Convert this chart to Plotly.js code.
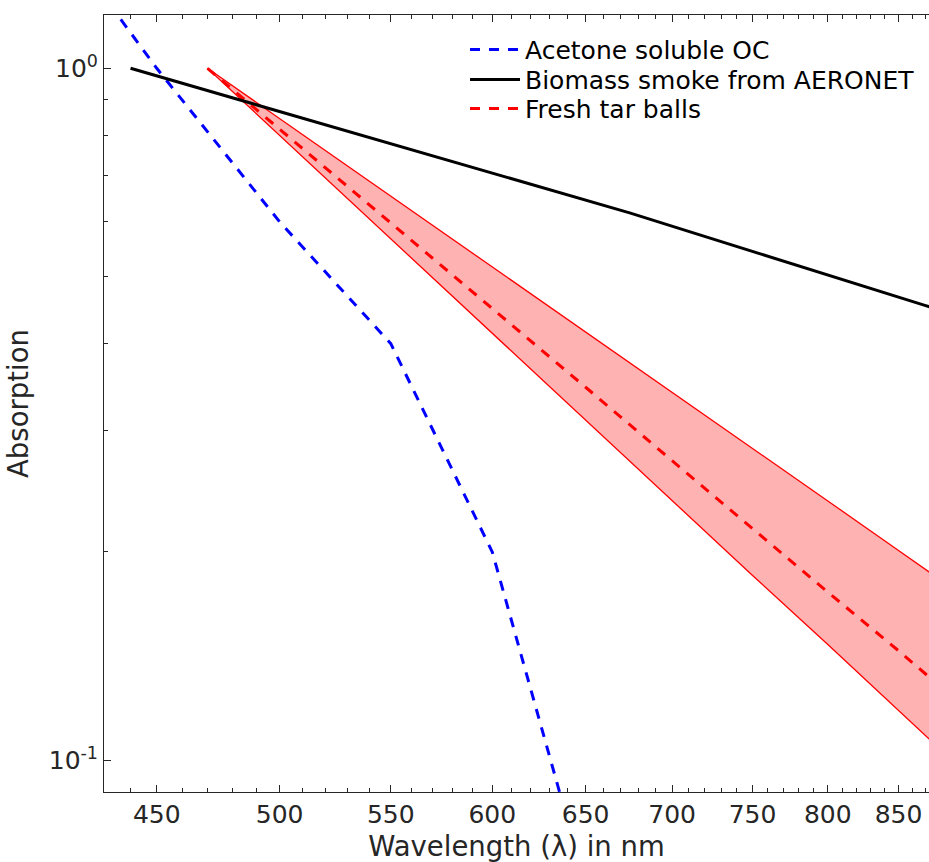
<!DOCTYPE html>
<html>
<head>
<meta charset="utf-8">
<script src="https://cdn.plot.ly/plotly-3.0.1.min.js"></script>
<style>html,body{margin:0;padding:0;background:#fff;}#chart{width:929px;height:862px;}</style>
</head>
<body>
<div id="chart"></div>
<script>
// Acetone soluble OC
const wavelengthBlue = [400, 450, 500, 550, 600, 650];
const absBlue = [1.86, 1.0, 0.60, 0.40, 0.20, 0.066];
// Biomass smoke from AERONET
const wavelengthBlack = [440, 675, 870, 1020];
const absBlack = [1.0, 0.618, 0.454, 0.375];
// Fresh tar balls (mean and range)
const wavelengthRed = [470, 500, 550, 600, 650, 700, 750, 800, 850, 900];
const absRedMid = [1.0, 0.817, 0.598, 0.449, 0.346, 0.271, 0.216, 0.175, 0.144, 0.119];
const absRedUpper = [1.0, 0.846, 0.653, 0.516, 0.416, 0.340, 0.282, 0.237, 0.201, 0.172];
const absRedLower = [1.0, 0.800, 0.567, 0.414, 0.310, 0.237, 0.185, 0.147, 0.118, 0.096];

const xTickVals = [450, 500, 550, 600, 650, 700, 750, 800, 850];
const xTickText = ['450', '500', '550', '600', '650', '700', '750', '800', '850'];
const xMinorVals = [440, 460, 470, 480, 490, 510, 520, 530, 540, 560, 570, 580, 590, 610, 620, 630, 640, 660, 670, 680, 690, 710, 720, 730, 740, 760, 770, 780, 790, 810, 820, 830, 840, 860, 870];
const yTickVals = [0.1, 1];
const yTickText = ['10<sup>-1</sup>', '10<sup>0</sup>'];
const yMinorVals = [0.09, 0.2, 0.3, 0.4, 0.5, 0.6, 0.7, 0.8, 0.9];

const axisColor = '#262626';
const font = 'DejaVu Sans, Liberation Sans, sans-serif';

const traces = [
  {x: wavelengthRed, y: absRedUpper, mode: 'lines', line: {color: 'rgb(255,0,0)', width: 1.3}, showlegend: false, hoverinfo: 'skip'},
  {x: wavelengthRed, y: absRedLower, mode: 'lines', line: {color: 'rgb(255,0,0)', width: 1.3}, fill: 'tonexty', fillcolor: 'rgba(255,0,0,0.3)', showlegend: false, hoverinfo: 'skip'},
  {x: wavelengthRed, y: absRedMid, mode: 'lines', name: 'Fresh tar balls', legend: 'legend3', line: {color: 'rgb(255,0,0)', width: 3, dash: '10px,9px'}},
  {x: wavelengthBlue, y: absBlue, mode: 'lines', name: 'Acetone soluble OC', legend: 'legend', line: {color: 'rgb(0,0,255)', width: 3, dash: '10px,9px'}},
  {x: wavelengthBlack, y: absBlack, mode: 'lines', name: 'Biomass smoke from AERONET', legend: 'legend2', line: {color: 'rgb(0,0,0)', width: 3}}
];

function legendAt(yTop) {
  return {x: 0.4376, y: yTop, xanchor: 'left', yanchor: 'top', bgcolor: 'rgba(0,0,0,0)', borderwidth: 0,
          font: {size: 25, color: '#000'}, itemwidth: 50, traceorder: 'normal'};
}

const layout = {
  width: 929, height: 862,
  margin: {l: 104, r: 0, t: 15, b: 70},
  paper_bgcolor: '#fff', plot_bgcolor: '#fff',
  font: {family: font, color: axisColor, size: 25},
  showlegend: true,
  legend: legendAt(0.985),
  legend2: legendAt(0.9464),
  legend3: legendAt(0.909),
  xaxis: {
    type: 'log', range: [Math.log10(430.1), Math.log10(872.5)],
    tickmode: 'array', tickvals: xTickVals, ticktext: xTickText,
    ticks: 'inside', ticklen: 7, tickwidth: 1, tickcolor: axisColor,
    minor: {tickmode: 'array', tickvals: xMinorVals, ticks: 'inside', ticklen: 4, tickwidth: 1, tickcolor: axisColor, showgrid: false},
    showline: true, linecolor: axisColor, linewidth: 1, mirror: 'allticks',
    showgrid: false, zeroline: false,
    tickfont: {size: 25, color: axisColor},
    title: {text: 'Wavelength (λ) in nm', font: {size: 27.5, color: axisColor}, standoff: 8}
  },
  yaxis: {
    type: 'log', range: [-1.0458, 0.0770],
    tickmode: 'array', tickvals: yTickVals, ticktext: yTickText,
    ticks: 'inside', ticklen: 7, tickwidth: 1, tickcolor: axisColor,
    minor: {tickmode: 'array', tickvals: yMinorVals, ticks: 'inside', ticklen: 4, tickwidth: 1, tickcolor: axisColor, showgrid: false},
    showline: true, linecolor: axisColor, linewidth: 1, mirror: false,
    showgrid: false, zeroline: false,
    tickfont: {size: 25, color: axisColor},
    title: {text: 'Absorption', font: {size: 27.5, color: axisColor}, standoff: 12}
  }
};

Plotly.newPlot('chart', traces, layout, {displayModeBar: false, staticPlot: true});
</script>
</body>
</html>
